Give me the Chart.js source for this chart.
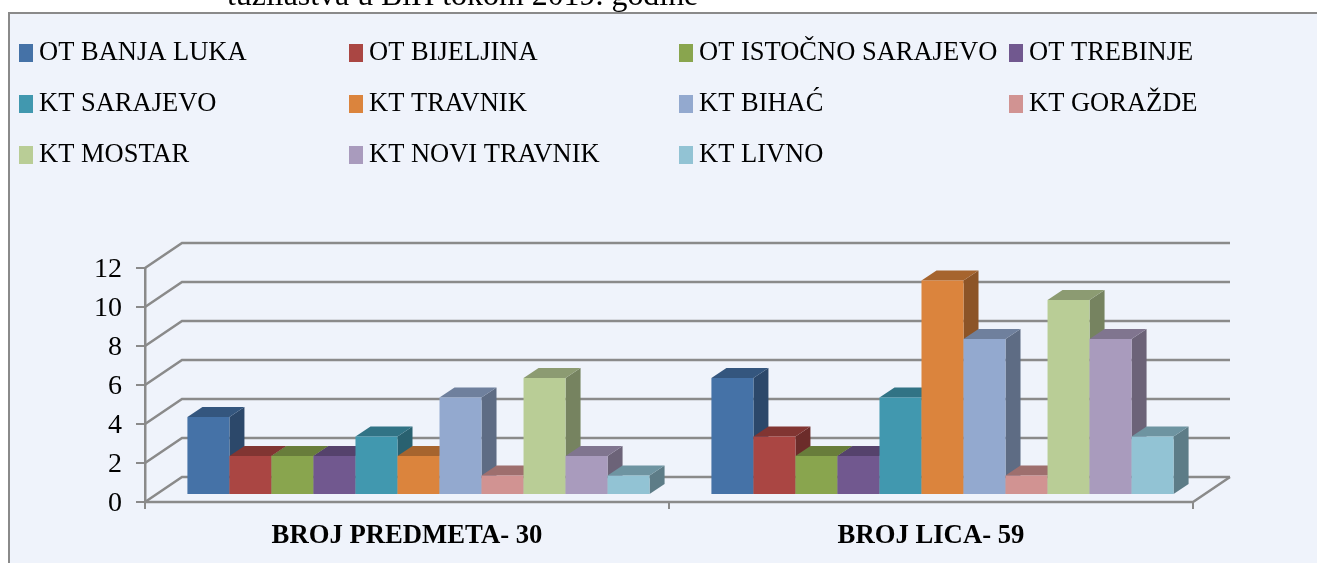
<!DOCTYPE html>
<html><head><meta charset="utf-8">
<style>html,body{margin:0;padding:0;background:#fff;overflow:hidden}canvas{display:block}</style>
<script src="https://cdn.jsdelivr.net/npm/chart.js@4/dist/chart.umd.min.js"></script>
</head><body><canvas id="c" width="1317" height="563"></canvas>
<script>
const categories = ["BROJ PREDMETA- 30", "BROJ LICA- 59"];
const seriesNames = ["OT BANJA LUKA","OT BIJELJINA","OT ISTOČNO SARAJEVO","OT TREBINJE","KT SARAJEVO","KT TRAVNIK","KT BIHAĆ","KT GORAŽDE","KT MOSTAR","KT NOVI TRAVNIK","KT LIVNO"];
const otBanjaLuka = [4, 6];
const otBijeljina = [2, 3];
const otIstocnoSarajevo = [2, 2];
const otTrebinje = [2, 2];
const ktSarajevo = [3, 5];
const ktTravnik = [2, 11];
const ktBihac = [5, 8];
const ktGorazde = [1, 1];
const ktMostar = [6, 10];
const ktNoviTravnik = [2, 8];
const ktLivno = [1, 3];
const seriesValues = [otBanjaLuka,otBijeljina,otIstocnoSarajevo,otTrebinje,ktSarajevo,ktTravnik,ktBihac,ktGorazde,ktMostar,ktNoviTravnik,ktLivno];
const seriesColors = ["#4572A7","#AA4643","#89A54E","#71588F","#4198AF","#DB843D","#93A9CF","#D19392","#B9CD96","#A99BBD","#92C3D4"];
const caption = "tužilaštva u BiH tokom 2019. godine";

const FONT = '"Liberation Serif"';
const AXIS = "#8a8a8a";
const BACK = {x:37, y:-25};
const BAR = {x:11.5, y:-7};
const DEPTH = {x:15, y:-10};
function shade(hex,f){const n=parseInt(hex.slice(1),16);return `rgb(${((n>>16)&255)*f|0},${((n>>8)&255)*f|0},${(n&255)*f|0})`;}

const scene = {
  id:"scene",
  afterLayout(chart){
    // the tick numbers sit slightly below the tick marks in the reference
    chart.scales.y.getLabelItems().forEach(it=>{ it.textOffset = (it.textOffset||0)+2; });
  },
  beforeDraw(chart){
    const c=chart.ctx;
    c.save();
    c.fillStyle="#fff";c.fillRect(0,0,1317,563);
    c.fillStyle="#000";c.font=`31.9px ${FONT}`;c.textBaseline="alphabetic";
    c.fillText(caption,227,5);
    c.fillStyle="#EFF3FB";c.fillRect(9,13,1308,550);
    c.strokeStyle="#8a8a8a";c.lineWidth=2;
    c.beginPath();c.moveTo(9,563);c.lineTo(9,13);c.lineTo(1317,13);c.stroke();
    c.font=`26.5px ${FONT}`;c.textBaseline="middle";
    seriesNames.forEach((n,i)=>{
      const col=i%4,row=Math.floor(i/4);
      const x=19+col*330,y=52+row*51;
      c.fillStyle=seriesColors[i];c.fillRect(x,y-8,14,18);
      c.fillStyle="#000";c.fillText(n,x+20,y+1);
    });
    c.restore();
  },
  beforeDatasetsDraw(chart){
    const c=chart.ctx,a=chart.chartArea,ys=chart.scales.y;
    c.save();
    c.strokeStyle=AXIS;c.lineWidth=2.5;
    ys.ticks.forEach(t=>{
      const y=ys.getPixelForValue(t.value);
      c.beginPath();c.moveTo(a.left,y);c.lineTo(a.left+BACK.x,y+BACK.y);c.lineTo(a.right+BACK.x,y+BACK.y);c.stroke();
    });
    const y0=ys.getPixelForValue(0);
    c.beginPath();c.moveTo(a.left,y0);c.lineTo(a.right,y0);c.lineTo(a.right+BACK.x,y0+BACK.y);c.stroke();
    c.translate(BAR.x,BAR.y);
    chart.getSortedVisibleDatasetMetas().forEach(m=>{
      const col=seriesColors[m.index];
      m.data.forEach(b=>{
        const p=b.getProps(["x","y","base","width"],true);
        const l=p.x-p.width/2,r=p.x+p.width/2;
        c.fillStyle=shade(col,.64);
        c.beginPath();c.moveTo(r,p.y);c.lineTo(r+DEPTH.x,p.y+DEPTH.y);c.lineTo(r+DEPTH.x,p.base+DEPTH.y);c.lineTo(r,p.base);c.closePath();c.fill();
        c.fillStyle=shade(col,.76);
        c.beginPath();c.moveTo(l,p.y);c.lineTo(l+DEPTH.x,p.y+DEPTH.y);c.lineTo(r+DEPTH.x,p.y+DEPTH.y);c.lineTo(r,p.y);c.closePath();c.fill();
        b.draw(c);
      });
    });
    c.restore();
    return false;
  }
};

new Chart(document.getElementById("c"),{
  type:"bar",
  data:{labels:categories,datasets:seriesNames.map((n,i)=>({label:n,data:seriesValues[i],backgroundColor:seriesColors[i],borderWidth:0,categoryPercentage:0.882,barPercentage:1}))},
  options:{
    responsive:false,animation:false,
    layout:{padding:{left:0,right:124,top:268,bottom:0}},
    plugins:{legend:{display:false},title:{display:false},tooltip:{enabled:false}},
    scales:{
      x:{
        afterFit(s){s.height=61;},
        grid:{display:true,drawOnChartArea:false,color:AXIS,lineWidth:2,tickLength:7,offset:true},
        border:{display:false},
        ticks:{color:"#000",padding:11,maxRotation:0,font:{family:FONT,size:26.7,weight:"bold"}}
      },
      y:{
        min:0,max:12,
        afterFit(s){s.width=145;},
        grid:{display:true,drawOnChartArea:false,color:AXIS,lineWidth:2,tickLength:9},
        border:{display:true,color:AXIS,width:2.5},
        ticks:{stepSize:2,color:"#000",padding:14,font:{family:FONT,size:28}}
      }
    }
  },
  plugins:[scene]
});
</script></body></html>
